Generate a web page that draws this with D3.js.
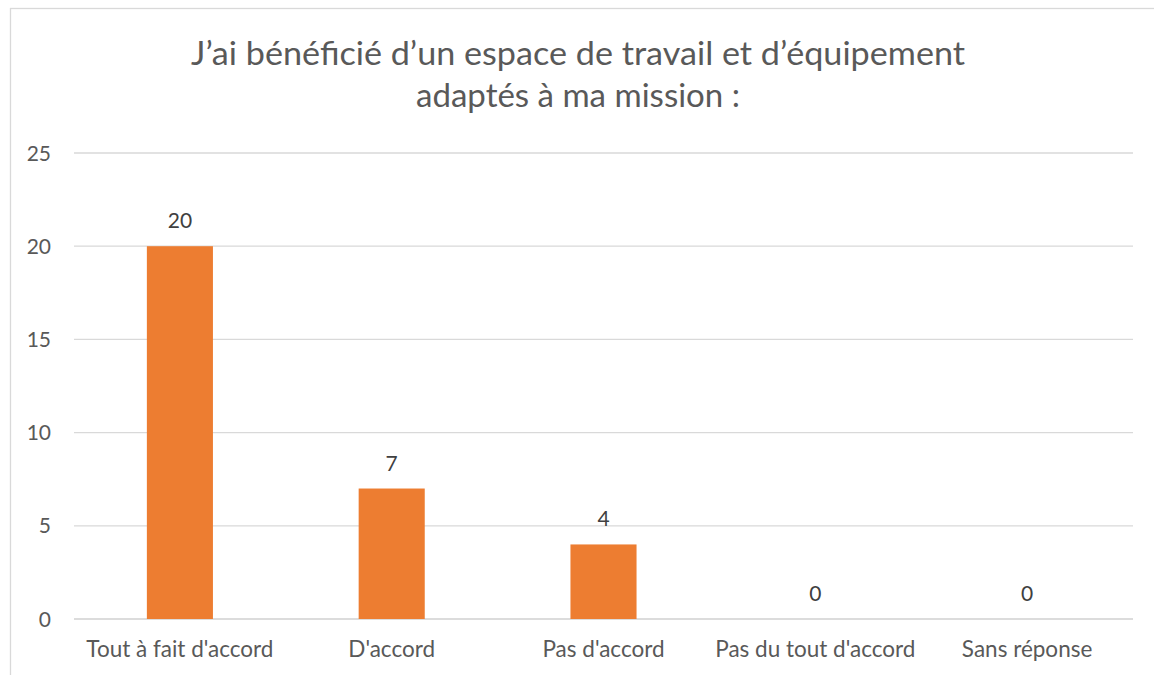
<!DOCTYPE html>
<html><head><meta charset="utf-8">
<script src="https://cdnjs.cloudflare.com/ajax/libs/d3/7.8.5/d3.min.js"></script>
<style>body{margin:0;background:#fff;} svg{display:block;}</style>
</head><body><svg id="c" width="1154" height="675"></svg>
<script>
const titleLines = ["J’ai bénéficié d’un espace de travail et d’équipement", "adaptés à ma mission :"];
const categories = ["Tout à fait d'accord", "D'accord", "Pas d'accord", "Pas du tout d'accord", "Sans réponse"];
const values = [20, 7, 4, 0, 0];
const yTicks = [0, 5, 10, 15, 20, 25];

const font = "Lato, 'Open Sans', sans-serif";
const txt = "#595959";
const svg = d3.select("#c");

svg.append("rect").attr("x", 10.5).attr("y", 8.5).attr("width", 1160).attr("height", 700)
  .attr("fill", "#fff").attr("stroke", "#d9d9d9").attr("stroke-width", 1.3);

const x = d3.scaleBand().domain(categories).range([74, 1133]);
const y = d3.scaleLinear().domain([0, 25]).range([619, 153]);

const titleLens = [774, 324];
svg.selectAll("text.title").data(titleLines).join("text").attr("class", "title")
  .attr("x", 578).attr("y", (d, i) => 65 + i * 42)
  .attr("text-anchor", "middle").attr("fill", txt)
  .attr("textLength", (d, i) => titleLens[i]).attr("lengthAdjust", "spacingAndGlyphs")
  .style("font-family", font).style("font-size", "33px").text(d => d);

const g = svg.append("g");
g.selectAll("line.grid").data(yTicks).join("line").attr("class", "grid")
  .attr("x1", 74).attr("x2", 1133).attr("y1", d => y(d)).attr("y2", d => y(d))
  .attr("stroke", d => d === 0 ? "#d0d0d0" : "#d9d9d9").attr("stroke-width", 1.3);

g.selectAll("text.ytick").data(yTicks).join("text").attr("class", "ytick")
  .attr("x", 51).attr("y", d => y(d)).attr("dy", "0.36em").attr("text-anchor", "end")
  .attr("fill", txt).style("font-family", font).style("font-size", "21px").text(d => d);

const bw = x.bandwidth() * 0.312;
g.selectAll("rect.bar").data(values).join("rect").attr("class", "bar")
  .attr("x", (d, i) => x(categories[i]) + x.bandwidth() / 2 - bw / 2)
  .attr("width", bw)
  .attr("y", d => y(d)).attr("height", d => y(0) - y(d))
  .attr("fill", "#ed7d31");

g.selectAll("text.val").data(values).join("text").attr("class", "val")
  .attr("x", (d, i) => x(categories[i]) + x.bandwidth() / 2)
  .attr("y", d => y(d) - 18).attr("text-anchor", "middle")
  .attr("fill", "#404040").style("font-family", font).style("font-size", "21px").text(d => d);

g.selectAll("text.cat").data(categories).join("text").attr("class", "cat")
  .attr("x", d => x(d) + x.bandwidth() / 2).attr("y", 657)
  .attr("text-anchor", "middle").attr("fill", txt)
  .style("font-family", font).style("font-size", "22.5px").text(d => d);
</script></body></html>
